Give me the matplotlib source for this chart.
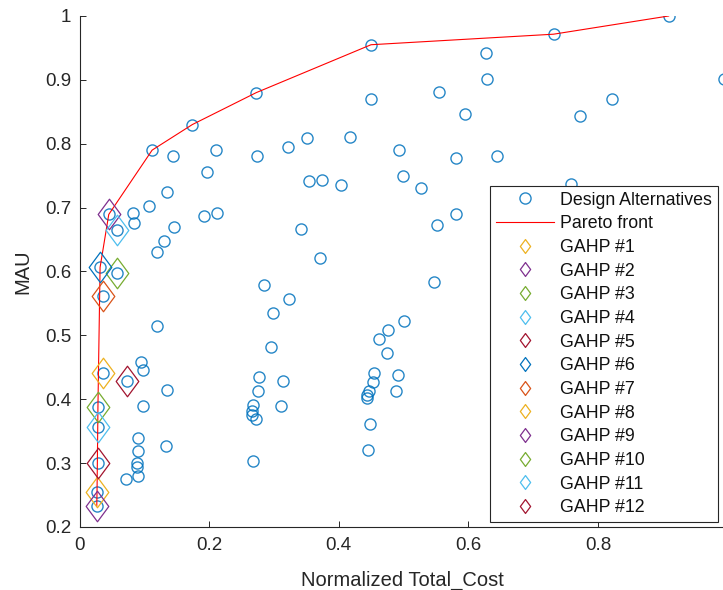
import matplotlib
matplotlib.use("Agg")
import matplotlib.pyplot as plt
from matplotlib.lines import Line2D
from matplotlib.path import Path

# ---------------- data ----------------
cost = [0.9089, 0.7313, 0.4497, 0.6273, 0.6283, 0.995, 0.2726, 0.5541, 0.4497, 0.8213,
        0.5943, 0.7714, 0.174, 0.4167, 0.3509, 0.321, 0.112, 0.2103, 0.4924, 0.1444,
        0.2737, 0.5804, 0.6437, 0.197, 0.4985, 0.3544, 0.3745, 0.4039, 0.7575, 0.5275,
        0.1347, 0.1069, 0.0451, 0.0822, 0.2119, 0.1923, 0.5815, 0.0842, 0.1459, 0.5509,
        0.3416, 0.0584, 0.1305, 0.1202, 0.3704, 0.0317, 0.0574, 0.5475, 0.2839, 0.0358,
        0.3231, 0.2978, 0.5001, 0.1192, 0.4754, 0.4618, 0.2956, 0.4741, 0.0945, 0.0985,
        0.0358, 0.4538, 0.4914, 0.2762, 0.3138, 0.0738, 0.4522, 0.1356, 0.2757, 0.446,
        0.4883, 0.444, 0.443, 0.0976, 0.2675, 0.3107, 0.0281, 0.266, 0.266, 0.2726,
        0.4486, 0.0281, 0.0899, 0.1336, 0.4445, 0.0908, 0.2675, 0.0883, 0.0281, 0.0883,
        0.0908, 0.0713, 0.0266, 0.0275]
mau = [1.000, 0.9715, 0.955, 0.9423, 0.9006, 0.9006, 0.880, 0.8808, 0.870, 0.870,
       0.8459, 0.8437, 0.830, 0.8105, 0.8088, 0.7947, 0.790, 0.790, 0.790, 0.7806,
       0.7806, 0.7775, 0.781, 0.7556, 0.7488, 0.7415, 0.7426, 0.7347, 0.7365, 0.7305,
       0.7238, 0.7028, 0.6893, 0.6909, 0.6909, 0.6867, 0.690, 0.6762, 0.670, 0.6728,
       0.6664, 0.6648, 0.6471, 0.6304, 0.6205, 0.6064, 0.597, 0.5834, 0.5787, 0.5615,
       0.5563, 0.5354, 0.5224, 0.515, 0.5083, 0.495, 0.4816, 0.4728, 0.4587, 0.4452,
       0.4405, 0.4405, 0.4379, 0.4343, 0.429, 0.428, 0.4274, 0.4139, 0.4128, 0.4128,
       0.4128, 0.4066, 0.4014, 0.3898, 0.3909, 0.3894, 0.3883, 0.3815, 0.3753, 0.3696,
       0.3607, 0.356, 0.3388, 0.3268, 0.3205, 0.3189, 0.3038, 0.3006, 0.3006, 0.2934,
       0.2798, 0.2746, 0.2553, 0.2329]

pareto_cost = [0.0266, 0.0270, 0.0275, 0.0281, 0.0284, 0.0317, 0.0451, 0.112, 0.174,
               0.2726, 0.4497, 0.7313, 0.9089]
pareto_mau = [0.2329, 0.2553, 0.3006, 0.356, 0.3883, 0.6064, 0.6893, 0.790, 0.830,
              0.880, 0.955, 0.9715, 1.000]

gahp_labels = ["GAHP #%d" % i for i in range(1, 13)]
gahp_cost = [0.0358, 0.0451, 0.0574, 0.0584, 0.0738, 0.0317, 0.0358,
             0.0266, 0.0275, 0.0281, 0.0281, 0.0281]
gahp_mau = [0.4405, 0.6893, 0.597, 0.6648, 0.428, 0.6064, 0.5615,
            0.2553, 0.2329, 0.3883, 0.356, 0.3006]

x_ticks = [0, 0.2, 0.4, 0.6, 0.8, 1]
x_ticklabels = ["0", "0.2", "0.4", "0.6", "0.8", "1"]
y_ticks = [0.2, 0.3, 0.4, 0.5, 0.6, 0.7, 0.8, 0.9, 1.0]
y_ticklabels = ["0.2", "0.3", "0.4", "0.5", "0.6", "0.7", "0.8", "0.9", "1"]

# ---------------- style ----------------
gahp_colors = ["#EDB120", "#7E2F8E", "#77AC30", "#4DBEEE", "#A2142F", "#0072BD", "#D95319",
               "#EDB120", "#7E2F8E", "#77AC30", "#4DBEEE", "#A2142F"]
BLUE = "#0072BD"
AX = "#262626"

plt.rcParams['font.family'] = ['Liberation Sans', 'DejaVu Sans']

diamond = Path([(0, 1), (0.74, 0), (0, -1), (-0.74, 0), (0, 1)],
               [Path.MOVETO, Path.LINETO, Path.LINETO, Path.LINETO, Path.CLOSEPOLY])

fig = plt.figure(figsize=(7.23, 5.90), dpi=100)
ax = fig.add_axes([0.110, 0.1068, 0.8965, 0.8661])

ax.plot(cost, mau, ls='none', marker='o', ms=8, mfc='none', mec=BLUE, mew=1.0,
        alpha=0.85, zorder=2)
ax.plot(pareto_cost, pareto_mau, color='red', lw=0.8, zorder=3)
for c, m, col in zip(gahp_cost, gahp_mau, gahp_colors):
    ax.plot([c], [m], ls='none', marker=diamond, ms=22, mfc='none', mec=col,
            mew=0.9, zorder=4)

ax.set_xlim(0, 1)
ax.set_ylim(0.2, 1.0)
ax.set_xticks(x_ticks)
ax.set_xticklabels(x_ticklabels)
ax.set_yticks(y_ticks)
ax.set_yticklabels(y_ticklabels)
ax.tick_params(direction='in', length=4.5, width=0.7, color=AX, labelcolor=AX,
               labelsize=13.5)
ax.tick_params(axis='y', pad=6)
ax.tick_params(axis='x', pad=7)
for s in ['top', 'right']:
    ax.spines[s].set_visible(False)
for s in ['left', 'bottom']:
    ax.spines[s].set_color(AX)
    ax.spines[s].set_linewidth(0.8)

ax.set_xlabel("Normalized Total_Cost", fontsize=14.5, color=AX)
ax.set_ylabel("MAU", fontsize=14.5, color=AX)
ax.xaxis.set_label_coords(0.4985, -0.085)
ax.yaxis.set_label_coords(-0.072, 0.5)

handles = [Line2D([], [], ls='none', marker='o', ms=8, mfc='none', mec=BLUE, mew=1.0, alpha=0.85),
           Line2D([], [], color='red', lw=0.8)]
for col in gahp_colors:
    handles.append(Line2D([], [], ls='none', marker=diamond, ms=10, mfc='none', mec=col, mew=0.9))
labels = ["Design Alternatives", "Pareto front"] + gahp_labels

leg = ax.legend(handles, labels, loc='upper right',
                bbox_to_anchor=(718 / 723, 1 - 186 / 590), bbox_transform=fig.transFigure,
                borderaxespad=0, fontsize=12.8, frameon=True, fancybox=False,
                handlelength=3.3, handletextpad=0.35, labelspacing=0.375,
                borderpad=0.32, edgecolor=AX, framealpha=1)
leg.get_frame().set_linewidth(0.8)
for t in leg.get_texts():
    t.set_color('#111111')

fig.savefig("out.png", dpi=100)
